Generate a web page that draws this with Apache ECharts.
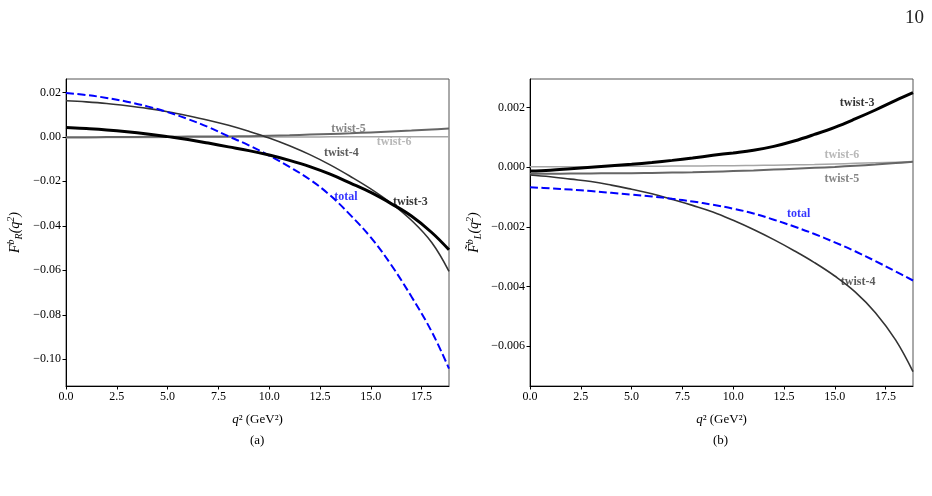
<!DOCTYPE html>
<html>
<head>
<meta charset="utf-8">
<script src="https://cdn.jsdelivr.net/npm/echarts@6/dist/echarts.min.js"></script>
<style>
  html, body { margin: 0; padding: 0; background: #fff; }
  #main { width: 932px; height: 496px; }
</style>
</head>
<body>
<div id="main"></div>
<script>
// q^2 sample points (GeV^2)
const q2 = [0, 1, 2, 3, 4, 5, 6, 7, 8, 9, 10, 11, 12, 13, 14, 15, 16, 17, 18, 18.85];

// panel (a): F_R^b
const aTwist3 = [0.0042, 0.0037, 0.0031, 0.0023, 0.0013, 0.0001, -0.0012, -0.0028, -0.0045, -0.0062, -0.0082, -0.0106, -0.0134, -0.0168, -0.0208, -0.0250, -0.0300, -0.0356, -0.0430, -0.0508];
const aTwist4 = [0.0162, 0.0157, 0.0150, 0.0140, 0.0128, 0.0113, 0.0095, 0.0075, 0.0052, 0.0025, -0.0005, -0.0040, -0.0080, -0.0126, -0.0178, -0.0234, -0.0298, -0.0375, -0.0475, -0.0605];
const aTwist5 = [-0.0002, -0.0002, -0.0001, -0.0001, 0.0000, 0.0000, 0.0001, 0.0001, 0.0002, 0.0003, 0.0005, 0.0007, 0.0010, 0.0013, 0.0016, 0.0020, 0.0024, 0.0028, 0.0033, 0.0037];
const aTwist6 = [-0.0004, -0.0004, -0.0003, -0.0003, -0.0003, -0.0002, -0.0002, -0.0002, -0.0001, -0.0001, -0.0001, -0.0001, -0.0001, 0, 0, 0, 0, 0, 0, 0];
const aTotal = [0.0197, 0.0188, 0.0175, 0.0158, 0.0137, 0.0111, 0.0080, 0.0044, 0.0002, -0.0038, -0.0084, -0.0135, -0.0192, -0.0263, -0.0352, -0.0452, -0.0575, -0.0718, -0.0876, -0.1042];

// panel (b): F~_L^b
const bTwist3 = [-0.00013, -0.00010, -0.00005, 0.00000, 0.00005, 0.00010, 0.00016, 0.00023, 0.00031, 0.00040, 0.00048, 0.00057, 0.00070, 0.00088, 0.00110, 0.00134, 0.00162, 0.00192, 0.00224, 0.00250];
const bTwist4 = [-0.00026, -0.00032, -0.00040, -0.00048, -0.00060, -0.00074, -0.00089, -0.00108, -0.00128, -0.00150, -0.00178, -0.00209, -0.00243, -0.00280, -0.00320, -0.00365, -0.00418, -0.00488, -0.00580, -0.00686];
const bTwist5 = [-0.00022, -0.00022, -0.00021, -0.00021, -0.00020, -0.00020, -0.00019, -0.00018, -0.00017, -0.00015, -0.00013, -0.00011, -0.00008, -0.00005, -0.00002, 0.00001, 0.00005, 0.00009, 0.00014, 0.00018];
const bTwist6 = [0.00002, 0.00002, 0.00002, 0.00002, 0.00003, 0.00003, 0.00003, 0.00004, 0.00004, 0.00005, 0.00005, 0.00006, 0.00007, 0.00008, 0.00009, 0.00011, 0.00013, 0.00015, 0.00017, 0.00019];
const bTotal = [-0.00067, -0.00071, -0.00075, -0.00080, -0.00086, -0.00092, -0.00098, -0.00106, -0.00115, -0.00126, -0.00139, -0.00155, -0.00176, -0.00199, -0.00224, -0.00252, -0.00282, -0.00315, -0.00350, -0.00380];

// curve labels: name, q2, value
const aLabels = [['twist-5', 13.05, 0.0036], ['twist-6', 15.3, -0.0024], ['twist-4', 12.7, -0.0071], ['total', 13.2, -0.0271], ['twist-3', 16.1, -0.0291]];
const bLabels = [['twist-3', 15.25, 0.00217], ['twist-6', 14.5, 0.00041], ['twist-5', 14.5, -0.00039], ['total', 12.65, -0.00157], ['twist-4', 15.3, -0.00385]];

const X_MAX = 18.85;
const serif = '"Liberation Serif", "DejaVu Serif", serif';
const colors = { 'twist-3': '#000000', 'twist-4': '#333333', 'twist-5': '#666666', 'twist-6': '#a6a6a6', 'total': '#0000ff' };

function pts(ys) { return q2.map((x, i) => [x, ys[i]]); }
function minus(s) { return s.replace('-', '\u2212'); }

const chart = echarts.init(document.getElementById('main'));

function xAxisFor(idx) {
  return {
    gridIndex: idx, type: 'value', min: 0, max: X_MAX, interval: 2.5,
    name: '{i|q}{n|\u00b2 (GeV\u00b2)}', nameLocation: 'middle', nameGap: 27,
    nameTextStyle: { rich: { i: { fontFamily: serif, fontStyle: 'italic', fontSize: 13, color: '#000' }, n: { fontFamily: serif, fontSize: 13, color: '#000' } } },
    axisLine: { onZero: false, lineStyle: { color: '#000', width: 1 } },
    axisTick: { inside: false, length: 3.5, lineStyle: { color: '#000' } },
    axisLabel: { fontFamily: serif, fontSize: 12, color: '#000', margin: 5, showMaxLabel: false, formatter: v => v.toFixed(1) },
    splitLine: { show: false }
  };
}

function yAxisFor(idx, min, max, split, dec, name) {
  return {
    gridIndex: idx, type: 'value', min: min, max: max, splitNumber: split,
    name: name, nameLocation: 'middle', nameRotate: 90, nameGap: idx === 0 ? 42 : 47,
    nameTextStyle: { rich: {
      i: { fontFamily: serif, fontStyle: 'italic', fontSize: 14, color: '#000' },
      sup: { fontFamily: serif, fontStyle: 'italic', fontSize: 10, color: '#000', verticalAlign: 'top', lineHeight: 18 },
      sub: { fontFamily: serif, fontStyle: 'italic', fontSize: 10, color: '#000', verticalAlign: 'bottom', lineHeight: 18 },
      n: { fontFamily: serif, fontSize: 14, color: '#000' }
    } },
    axisLine: { onZero: false, lineStyle: { color: '#000', width: 1 } },
    axisTick: { inside: false, length: 3.5, lineStyle: { color: '#000' } },
    axisLabel: { fontFamily: serif, fontSize: 12, color: '#000', margin: 5, showMinLabel: false, showMaxLabel: false, formatter: v => minus(v.toFixed(dec)) },
    splitLine: { show: false }
  };
}

function lineSeries(idx, name, ys, width, dashed) {
  return {
    type: 'line', name: name, xAxisIndex: idx, yAxisIndex: idx,
    data: pts(ys), smooth: 0.4, showSymbol: false, symbol: 'none',
    lineStyle: { color: colors[name], width: width, type: dashed ? [8, 3.5] : 'solid' },
    z: name === 'twist-3' ? 5 : 3, silent: true
  };
}

function labelSeries(idx, labels) {
  return {
    type: 'scatter', xAxisIndex: idx, yAxisIndex: idx, symbolSize: 0, silent: true, z: 10,
    data: labels.map(l => ({
      value: [l[1], l[2]], name: l[0],
      label: { show: true, position: 'right', distance: 0, formatter: l[0], color: colors[l[0]], fontFamily: serif, fontWeight: 'bold', fontSize: 12 }
    }))
  };
}

chart.setOption({
  backgroundColor: '#fff',
  animation: false,
  grid: [
    { left: 66, right: 483, top: 79, bottom: 110, show: true, borderColor: '#555', borderWidth: 1, backgroundColor: 'transparent' },
    { left: 530, right: 19, top: 79, bottom: 110, show: true, borderColor: '#555', borderWidth: 1, backgroundColor: 'transparent' }
  ],
  xAxis: [xAxisFor(0), xAxisFor(1)],
  yAxis: [
    yAxisFor(0, -0.112, 0.026, 7, 2, '{i|F}{sup|b}{sub|R}{i|(q}{sup|2}{i|)}'),
    yAxisFor(1, -0.00734, 0.00296, 5, 3, '{i|F\u0303}{sup|b}{sub|L}{i|(q}{sup|2}{i|)}')
  ],
  series: [
    lineSeries(0, 'twist-6', aTwist6, 1.5),
    lineSeries(0, 'twist-5', aTwist5, 2),
    lineSeries(0, 'twist-4', aTwist4, 1.6),
    lineSeries(0, 'twist-3', aTwist3, 3),
    lineSeries(0, 'total', aTotal, 2, true),
    labelSeries(0, aLabels),
    lineSeries(1, 'twist-6', bTwist6, 1.5),
    lineSeries(1, 'twist-5', bTwist5, 2),
    lineSeries(1, 'twist-4', bTwist4, 1.6),
    lineSeries(1, 'twist-3', bTwist3, 3),
    lineSeries(1, 'total', bTotal, 2, true),
    labelSeries(1, bLabels)
  ],
  graphic: [
    { type: 'text', left: 250, top: 434, style: { text: '(a)', font: '13px ' + serif, fill: '#000' } },
    { type: 'text', left: 713, top: 434, style: { text: '(b)', font: '13px ' + serif, fill: '#000' } },
    { type: 'text', left: 905, top: 9, style: { text: '10', font: '19px ' + serif, fill: '#222' } }
  ]
});
</script>
</body>
</html>
